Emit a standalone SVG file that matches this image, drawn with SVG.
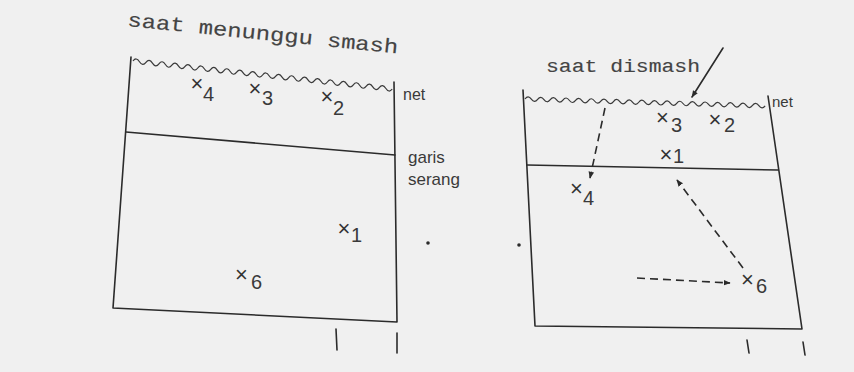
<svg xmlns="http://www.w3.org/2000/svg" width="854" height="372" viewBox="0 0 854 372">
<defs>
<style>
.ln{fill:none;stroke:#2b2b2b;stroke-width:1.6;stroke-linecap:round;stroke-linejoin:round}
.net{fill:none;stroke:#3a3a3a;stroke-width:1.2}
.dash{fill:none;stroke:#2b2b2b;stroke-width:1.6;stroke-dasharray:8 5}
.mono{font-family:"Liberation Mono","DejaVu Sans Mono",monospace;fill:#444;stroke:#444;stroke-width:0.15}
.lab{font-family:"Liberation Sans","DejaVu Sans",sans-serif;fill:#3a3a3a}
.x{font-family:"Liberation Sans","DejaVu Sans",sans-serif;font-size:22px;fill:#333;text-anchor:middle}
.d{font-family:"Liberation Sans","DejaVu Sans",sans-serif;font-size:20px;fill:#3a3a3a}
</style>
<marker id="ah" viewBox="0 0 10 10" refX="9" refY="5" markerWidth="7" markerHeight="7" orient="auto" markerUnits="userSpaceOnUse">
<path d="M0,1 L10,5 L0,9 z" fill="#2b2b2b"/>
</marker>
</defs>
<rect width="854" height="372" fill="#f0f0f0"/>

<g id="court-left">
<polyline class="ln" points="131,57 113,308 397,322 394,82"/>
<line class="ln" x1="126" y1="132" x2="395" y2="155"/>
<path class="net" d="M133,61 q3.24,-4.4 6.48,0.7 t6.48,0.7 t6.48,0.7 t6.48,0.7 t6.48,0.7 t6.48,0.7 t6.48,0.7 t6.48,0.7 t6.48,0.7 t6.48,0.7 t6.48,0.7 t6.48,0.7 t6.48,0.7 t6.48,0.7 t6.48,0.7 t6.48,0.7 t6.48,0.7 t6.48,0.7 t6.48,0.7 t6.48,0.7 t6.48,0.7 t6.48,0.7 t6.48,0.7 t6.48,0.7 t6.48,0.7 t6.48,0.7 t6.48,0.7 t6.48,0.7 t6.48,0.7 t6.48,0.7 t6.48,0.7 t6.48,0.7 t6.48,0.7 t6.48,0.7 t6.48,0.7 t6.48,0.7 t6.48,0.7 t6.48,0.7 t6.48,0.7 t6.48,0.7"/>
<line class="ln" x1="336" y1="329" x2="337" y2="350"/>
<line class="ln" x1="397" y1="333" x2="397" y2="353"/>
<text class="mono" font-size="20" x="127" y="26" textLength="272" lengthAdjust="spacingAndGlyphs" transform="rotate(5.8 127 26)">saat menunggu smash</text>
<text class="lab" font-size="16" x="403" y="100">net</text>
<text class="lab" font-size="17" x="408" y="163">garis</text>
<text class="lab" font-size="17" x="408" y="185">serang</text>
</g>

<g id="court-right">
<polyline class="ln" points="523,90 535,326 802,329 768,96"/>
<line class="ln" x1="527" y1="165" x2="778" y2="170"/>
<path class="net" d="M525,99 q3.16,-4.2 6.32,0.18 t6.32,0.18 t6.32,0.18 t6.32,0.18 t6.32,0.18 t6.32,0.18 t6.32,0.18 t6.32,0.18 t6.32,0.18 t6.32,0.18 t6.32,0.18 t6.32,0.18 t6.32,0.18 t6.32,0.18 t6.32,0.18 t6.32,0.18 t6.32,0.18 t6.32,0.18 t6.32,0.18 t6.32,0.18 t6.32,0.18 t6.32,0.18 t6.32,0.18 t6.32,0.18 t6.32,0.18 t6.32,0.18 t6.32,0.18 t6.32,0.18 t6.32,0.18 t6.32,0.18 t6.32,0.18 t6.32,0.18 t6.32,0.18 t6.32,0.18 t6.32,0.18 t6.32,0.18 t6.32,0.18 t6.32,0.18"/>
<line class="ln" x1="747" y1="340" x2="749" y2="353"/>
<line class="ln" x1="803" y1="342" x2="805" y2="355"/>
<text class="mono" font-size="19" x="546" y="72" textLength="154" lengthAdjust="spacingAndGlyphs">saat dismash</text>
<text class="lab" font-size="15" x="772" y="107">net</text>
</g>

<g id="dots">
<circle cx="428" cy="243" r="1.8" fill="#2b2b2b"/>
<circle cx="519" cy="245" r="1.8" fill="#2b2b2b"/>
</g>

<g id="p4-left"><text class="x" x="197" y="90.5">×</text><text class="d" x="203" y="101">4</text></g>
<g id="p3-left"><text class="x" x="255" y="95.5">×</text><text class="d" x="262" y="105">3</text></g>
<g id="p2-left"><text class="x" x="327" y="104">×</text><text class="d" x="333" y="115">2</text></g>
<g id="p1-left"><text class="x" x="344" y="236">×</text><text class="d" x="351" y="242">1</text></g>
<g id="p6-left"><text class="x" x="241.5" y="282">×</text><text class="d" x="251" y="289">6</text></g>

<g id="p3-right"><text class="x" x="662.5" y="125">×</text><text class="d" x="671" y="132">3</text></g>
<g id="p2-right"><text class="x" x="715" y="127">×</text><text class="d" x="724" y="132">2</text></g>
<g id="p1-right"><text class="x" x="666" y="162">×</text><text class="d" x="673" y="163">1</text></g>
<g id="p4-right"><text class="x" x="576.5" y="195.5">×</text><text class="d" x="583" y="205">4</text></g>
<g id="p6-right"><text class="x" x="747.5" y="287">×</text><text class="d" x="756" y="293" font-size="22">6</text></g>

<g id="connectors">
<line class="ln" x1="723" y1="48" x2="692" y2="97" marker-end="url(#ah)"/>
<line class="dash" x1="605" y1="108" x2="590" y2="178" marker-end="url(#ah)"/>
<line class="dash" x1="743" y1="268" x2="677" y2="180" marker-end="url(#ah)"/>
<line class="dash" x1="637" y1="278" x2="730" y2="283" marker-end="url(#ah)"/>
</g>
</svg>
